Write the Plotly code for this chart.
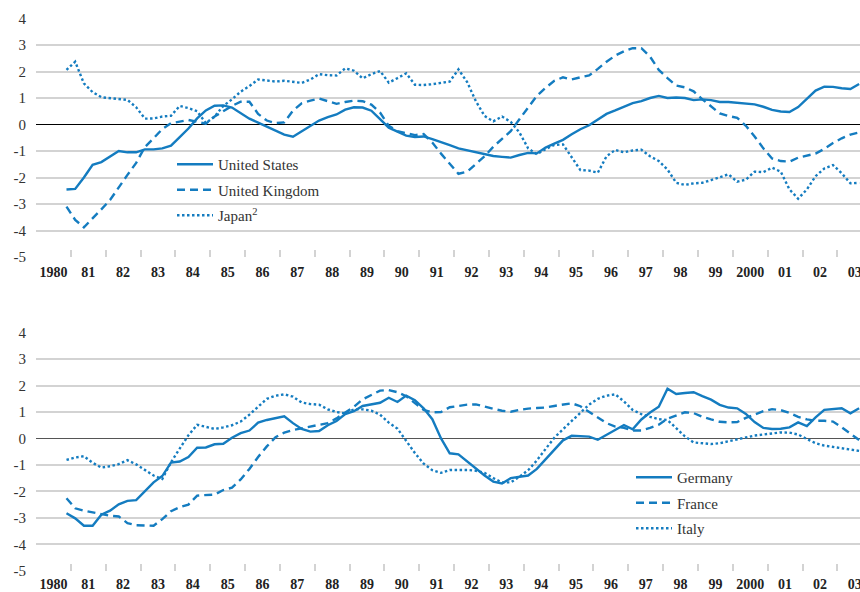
import pandas as pd
import plotly.graph_objects as go

# Quarterly observations, 1980Q4 .. 2003Q3
quarters = pd.period_range("1980Q4", "2003Q3", freq="Q")
t = [q.year + (q.quarter - 0.5) / 4 for q in quarters]

united_states = [
    -2.45,
    -2.43, -2.00, -1.52, -1.42,
    -1.21, -1.00, -1.05, -1.05,
    -0.94, -0.94, -0.90, -0.80,
    -0.48, -0.15, 0.23, 0.53,
    0.71, 0.72, 0.64, 0.42,
    0.22, 0.07, -0.09, -0.25,
    -0.38, -0.46, -0.25, -0.05,
    0.15, 0.28, 0.38, 0.56,
    0.65, 0.64, 0.52, 0.20,
    -0.12, -0.27, -0.42, -0.47,
    -0.45, -0.55, -0.68, -0.78,
    -0.90, -0.97, -1.05, -1.10,
    -1.19, -1.22, -1.25, -1.15,
    -1.07, -1.09, -0.87, -0.72,
    -0.58, -0.37, -0.18, -0.03,
    0.20, 0.40, 0.53, 0.68,
    0.81, 0.88, 1.00, 1.08,
    1.00, 1.02, 1.00, 0.92,
    0.95, 0.92, 0.85, 0.85,
    0.82, 0.80, 0.76, 0.67,
    0.55, 0.49, 0.47, 0.66,
    0.99, 1.28, 1.43, 1.42,
    1.37, 1.34, 1.53,
]
united_kingdom = [
    -3.10,
    -3.60, -3.88, -3.52, -3.20,
    -2.85, -2.35, -1.90, -1.45,
    -0.85, -0.52, -0.17, 0.05,
    0.12, 0.17, 0.10, 0.03,
    0.30, 0.50, 0.70, 0.86,
    0.86, 0.40, 0.15, 0.05,
    0.08, 0.52, 0.80, 0.90,
    0.98, 0.88, 0.78, 0.85,
    0.90, 0.88, 0.75, 0.45,
    -0.05, -0.25, -0.33, -0.40,
    -0.36, -0.68, -1.10, -1.50,
    -1.86, -1.78, -1.50, -1.20,
    -0.84, -0.55, -0.25, 0.20,
    0.62, 1.08, 1.38, 1.65,
    1.78, 1.70, 1.78, 1.85,
    2.10, 2.37, 2.60, 2.76,
    2.88, 2.88, 2.56, 2.06,
    1.75, 1.47, 1.40, 1.25,
    0.95, 0.68, 0.42, 0.32,
    0.25, -0.05, -0.45, -0.90,
    -1.28, -1.38, -1.40, -1.25,
    -1.18, -1.10, -0.92, -0.70,
    -0.52, -0.38, -0.30,
]
japan = [
    2.06,
    2.37, 1.55, 1.22, 1.03,
    1.00, 0.98, 0.93, 0.65,
    0.22, 0.23, 0.30, 0.33,
    0.70, 0.62, 0.50, 0.05,
    0.30, 0.70, 0.95, 1.24,
    1.45, 1.70, 1.65, 1.62,
    1.65, 1.60, 1.57, 1.70,
    1.90, 1.86, 1.85, 2.12,
    2.03, 1.74, 1.90, 2.02,
    1.58, 1.75, 1.93, 1.50,
    1.49, 1.52, 1.56, 1.62,
    2.08, 1.60, 0.88, 0.32,
    0.12, 0.30, 0.10, -0.30,
    -0.90, -1.12, -0.93, -0.77,
    -0.75, -1.25, -1.72, -1.74,
    -1.82, -1.20, -0.96, -1.05,
    -0.98, -0.95, -1.20, -1.38,
    -1.70, -2.20, -2.28, -2.22,
    -2.20, -2.10, -2.00, -1.88,
    -2.16, -2.08, -1.78, -1.80,
    -1.63, -1.78, -2.45, -2.80,
    -2.45, -1.95, -1.66, -1.53,
    -1.84, -2.22, -2.20,
]
germany = [
    -2.83,
    -3.02, -3.30, -3.30, -2.88,
    -2.73, -2.49, -2.36, -2.33,
    -2.01, -1.66, -1.42, -0.91,
    -0.87, -0.70, -0.35, -0.34,
    -0.22, -0.20, 0.03, 0.20,
    0.30, 0.60, 0.70, 0.78,
    0.84, 0.58, 0.36, 0.26,
    0.28, 0.50, 0.66, 0.92,
    1.03, 1.23, 1.28, 1.35,
    1.54, 1.38, 1.62, 1.45,
    1.14, 0.73, 0.00, -0.56,
    -0.60, -0.86, -1.15, -1.40,
    -1.63, -1.70, -1.50, -1.46,
    -1.40, -1.15, -0.80, -0.45,
    -0.07, 0.10, 0.08, 0.07,
    -0.05, 0.13, 0.32, 0.51,
    0.35, 0.72, 0.98, 1.20,
    1.88, 1.68, 1.72, 1.75,
    1.60, 1.47, 1.27, 1.17,
    1.14, 0.93, 0.62, 0.40,
    0.36, 0.37, 0.42, 0.61,
    0.47, 0.80, 1.08, 1.10,
    1.14, 0.95, 1.14,
]
france = [
    -2.26,
    -2.64, -2.73, -2.80, -2.87,
    -2.92, -2.95, -3.20, -3.28,
    -3.30, -3.30, -3.05, -2.75,
    -2.60, -2.50, -2.16, -2.15,
    -2.12, -1.95, -1.86, -1.55,
    -1.15, -0.70, -0.30, 0.05,
    0.22, 0.32, 0.38, 0.44,
    0.50, 0.58, 0.76, 0.97,
    1.20, 1.48, 1.66, 1.81,
    1.83, 1.75, 1.60, 1.33,
    1.08, 0.99, 1.00, 1.18,
    1.24, 1.28, 1.29, 1.20,
    1.12, 1.05, 1.01, 1.08,
    1.13, 1.15, 1.17, 1.23,
    1.29, 1.33, 1.22, 1.00,
    0.80, 0.58, 0.45, 0.40,
    0.30, 0.30, 0.40, 0.52,
    0.75, 0.88, 0.99, 0.96,
    0.82, 0.72, 0.63, 0.61,
    0.62, 0.78, 0.92, 1.03,
    1.11, 1.07, 0.97, 0.82,
    0.72, 0.67, 0.67, 0.64,
    0.42, 0.18, -0.06,
]
italy = [
    -0.81,
    -0.72, -0.67, -0.92, -1.10,
    -1.05, -0.97, -0.82, -0.98,
    -1.20, -1.40, -1.53, -0.90,
    -0.38, 0.12, 0.52, 0.45,
    0.36, 0.42, 0.50, 0.64,
    0.90, 1.20, 1.50, 1.62,
    1.67, 1.58, 1.36, 1.30,
    1.28, 1.10, 1.00, 0.95,
    1.10, 1.10, 1.05, 0.90,
    0.60, 0.37, -0.10, -0.55,
    -0.95, -1.20, -1.30, -1.19,
    -1.19, -1.19, -1.22, -1.30,
    -1.50, -1.66, -1.66, -1.45,
    -1.20, -0.83, -0.40, 0.03,
    0.35, 0.65, 0.98, 1.28,
    1.50, 1.62, 1.67, 1.40,
    1.08, 0.92, 0.82, 0.73,
    0.70, 0.40, 0.08, -0.15,
    -0.19, -0.21, -0.18, -0.10,
    -0.02, 0.04, 0.11, 0.15,
    0.18, 0.23, 0.22, 0.15,
    -0.02, -0.18, -0.27, -0.32,
    -0.38, -0.42, -0.47,
]

years = list(range(1980, 2004))
year_labels = ["1980"] + [f"{y % 100:02d}" if y != 2000 else "2000" for y in years[1:]]
y_ticks = list(range(-5, 5))

BLUE = "#147CC0"
GRID = "#D3D3D3"
SERIF = "Liberation Serif, Times New Roman, serif"
DASH = "8px,5px"
DOT = "2.5px,2.5px"

fig = go.Figure()
top = [("United States", united_states, "solid"),
       ("United Kingdom", united_kingdom, DASH),
       ("Japan<sup>2</sup>", japan, DOT)]
bottom = [("Germany", germany, "solid"),
          ("France", france, DASH),
          ("Italy", italy, DOT)]
for i, (name, vals, dash) in enumerate(top):
    fig.add_trace(go.Scatter(x=t, y=vals, name=name, mode="lines",
                             line=dict(color=BLUE, width=2.4, dash=dash),
                             xaxis="x", yaxis="y", legend="legend",
                             legendgroup=f"a{i}"))
for i, (name, vals, dash) in enumerate(bottom):
    fig.add_trace(go.Scatter(x=t, y=vals, name=name, mode="lines",
                             line=dict(color=BLUE, width=2.4, dash=dash),
                             xaxis="x2", yaxis="y2", legend="legend2",
                             legendgroup=f"b{i}"))

H = 592.0
def xaxis(anchor, standoff):
    return dict(
        anchor=anchor, range=[1980, 2003.65], domain=[0, 1],
        tickmode="array", tickvals=[y + 0.5 for y in years], ticktext=year_labels,
        ticks="", showgrid=False, zeroline=False, showline=False,
        tickfont=dict(family=SERIF, size=14, color="#222222", weight="bold"),
        ticklabelstandoff=standoff, ticklabeloverflow="allow",
        minor=dict(tickmode="array", tickvals=years[1:], ticks="inside",
                   ticklen=7, tickwidth=2, tickcolor=GRID, showgrid=False),
        automargin=False, fixedrange=True,
    )

def yaxis(anchor, dom, zc):
    return dict(
        anchor=anchor, domain=dom, range=[-5, 4], tickmode="array",
        tickvals=y_ticks, ticktext=[str(v) for v in y_ticks],
        showgrid=True, gridcolor=GRID, gridwidth=2,
        zeroline=True, zerolinecolor=zc, zerolinewidth=1.2,
        showline=False, ticks="",
        tickfont=dict(family=SERIF, size=15, color="#333333"),
        ticklabelstandoff=9, automargin=False, fixedrange=True,
    )

legend_common = dict(
    font=dict(family=SERIF, size=15, color="#333333"),
    bgcolor="rgba(0,0,0,0)", borderwidth=0, tracegroupgap=3,
    xanchor="left", yanchor="top", itemclick=False, itemdoubleclick=False,
    itemwidth=36,
)

fig.update_layout(
    width=860, height=592,
    margin=dict(l=36, r=0, t=0, b=0),
    paper_bgcolor="white", plot_bgcolor="white",
    showlegend=True,
    xaxis=xaxis("y", 5),
    yaxis=yaxis("x", [1 - 257 / H, 1 - 18.5 / H], "#000000"),
    xaxis2=xaxis("y2", 3),
    yaxis2=yaxis("x2", [1 - 570.7 / H, 1 - 332.7 / H], "#555555"),
    legend=dict(x=(172 - 36) / 824, y=1 - 148 / H, **legend_common),
    legend2=dict(x=(631 - 36) / 824, y=1 - 461 / H, **legend_common),
)

fig.write_html(
    "out.html",
    config={"displayModeBar": False},
    post_script="document.body.style.margin='0';document.body.style.overflow='hidden';",
)
